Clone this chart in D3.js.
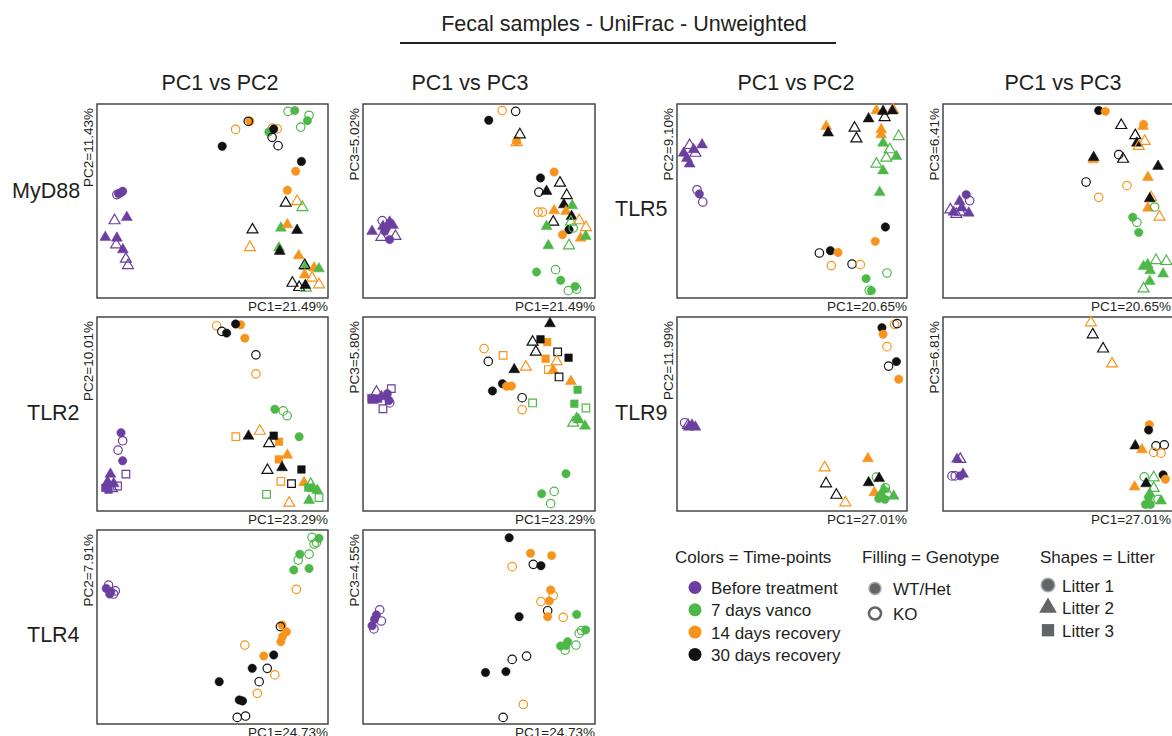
<!DOCTYPE html>
<html>
<head>
<meta charset="utf-8">
<script src="https://cdn.jsdelivr.net/npm/d3@7"></script>
<style>
body { margin: 0; background: #fff; }
svg { display: block; font-family: "Liberation Sans", Arial, Helvetica, sans-serif; }
</style>
</head>
<body>
<svg id="chart" width="1172" height="736"></svg>
<script>
// Categories
const timepoints = ["Before treatment", "7 days vanco", "14 days recovery", "30 days recovery"];
const genotypes = ["WT/Het", "KO"];
const litters = ["Litter 1", "Litter 2", "Litter 3"];
const genes = ["MyD88", "TLR2", "TLR4", "TLR5", "TLR9"];

// Variance explained (%)
const pc1Var = [21.49, 23.29, 24.73, 20.65, 27.01];
const pc2Var = [11.43, 10.01, 7.91, 9.10, 11.99];
const pc3Var = [5.02, 5.80, 4.55, 6.41, 6.81];

// Sample scores: [PC1, PC2 or PC3, timepoint index, filled (WT/Het=1, KO=0), litter]
// scores are rescaled to 0-100 within each plot
const myd88_pc12 = [
  [82.7,96.2,1,0,1],[85.6,96.6,1,1,1],[91.8,94.2,1,0,1],[91.1,91.4,1,1,1],[88.2,88.1,1,0,1],
  [66.2,91.1,2,1,1],[65.5,91.1,3,0,1],[60,86.9,2,0,1],[75.9,87.6,2,0,1],[78,87.2,2,0,1],
  [74.4,85.6,1,1,1],[76.5,87.1,3,1,1],[75.8,82.8,3,0,1],[78.4,78.5,3,0,1],[54.2,78.2,3,1,1],
  [88.5,70.4,3,1,1],[86,65.3,2,1,1],[82.4,55.5,2,1,1],
  [81.7,49,3,0,2],[86.6,49.8,2,0,2],[88.9,46.7,1,0,2],[67.3,35.2,3,0,2],[79.6,36.1,1,1,2],
  [82.4,37.8,2,1,2],[86.6,34.9,3,1,2],[66.2,26.1,2,0,2],[78.8,25.8,1,1,2],[79.1,24.1,3,1,2],
  [87.3,21.8,2,1,2],[90.3,16.3,1,1,2],[89.9,16.8,3,0,2],[94,15.5,2,1,2],[96.1,15.1,1,1,2],
  [89.9,12,2,1,2],[93.1,10.3,2,0,2],[84.6,7.7,3,0,2],[87.5,5.5,3,0,2],[90.4,5.2,1,0,2],
  [90.2,6.5,3,1,2],[96.1,6.9,2,0,2],
  [8.6,53.3,0,0,1],[10.1,54.1,0,1,1],[11.1,55,0,1,1],[9.3,53.8,0,1,1],
  [12.9,41.6,0,1,2],[7.6,39.9,0,0,2],[3.6,31.3,0,1,2],[8.6,30.9,0,1,2],[8.3,27.5,0,0,2],
  [11.2,24.9,0,1,2],[12.5,20.1,0,0,2],[13.4,16.8,0,0,2]
];
const myd88_pc13 = [
  [54.2,91.6,3,1,1],[60,96.6,2,0,1],[65.8,96.2,3,0,1],[66.2,80.8,2,1,1],[66.2,80.2,2,0,2],
  [67.6,84.2,3,0,2],[76.5,61.9,3,1,1],[82.4,64.9,2,1,1],[84.9,59.3,3,0,2],[75.8,54.6,3,0,1],
  [79.1,55,3,1,2],[87.8,52.9,3,0,2],[86.6,48.1,3,1,2],[90.2,47.6,1,1,2],[75.5,44.3,2,0,1],
  [77.3,44.3,2,0,1],[82.4,45,2,1,2],[87.5,44.7,2,1,2],[89.9,42.1,3,1,2],[82,39.2,3,0,2],
  [79.1,36.9,1,1,2],[89.6,39.2,1,0,2],[93.2,39.9,2,0,2],[88.8,35.2,3,1,1],[90.6,36.1,1,0,1],
  [96.1,36.4,2,0,2],[86,32.6,2,1,1],[93.8,30.9,2,1,2],[96,31.8,1,1,2],[79.9,27,1,1,2],
  [88.8,27,1,0,2],[74.8,13.4,1,1,1],[83,14.6,1,0,1],[85.2,9.1,1,1,1],[91.4,6,1,1,1],
  [88.5,3.8,1,0,1],[92.1,4.6,1,0,1],
  [3.9,34.4,0,1,2],[8.3,39.9,0,0,1],[8.6,36.9,0,1,2],[11.5,39.2,0,1,2],[10.1,36.1,0,1,1],
  [12.9,37.5,0,1,2],[9.4,34.4,0,1,1],[7.9,31.3,0,0,2],[11.5,30.1,0,1,1],[14,31.8,0,0,2]
];
const tlr2_pc12 = [
  [51.8,95.5,2,0,1],[54,92.6,3,0,1],[56.1,91.7,3,1,1],[62.2,96,2,1,1],[60,96.4,3,1,1],
  [64,89.1,2,1,1],[68.8,80.5,3,0,1],[68.8,70.7,2,0,1],[77,52.4,1,1,1],[80.6,51.6,1,0,1],
  [82.3,49.1,1,0,1],[87.5,38.3,1,1,1],[60.1,38.3,2,0,3],[65.6,38.6,3,1,2],[70.5,41.2,2,0,2],
  [78.8,35.7,2,1,3],[76.5,38.8,3,1,3],[74.5,34.8,3,0,2],[82.4,28.8,2,1,2],[78.7,26.6,2,1,3],
  [73.8,21,3,0,2],[80.1,22.4,3,1,2],[88.5,21.4,3,1,3],[79.6,15.3,2,0,3],[84.2,14.1,3,0,3],
  [89.6,14.7,2,1,2],[92.5,13.8,1,0,2],[91.4,12.1,1,1,3],[95.4,10.7,1,1,2],[93.5,11.5,1,1,2],
  [91.8,5.5,1,1,2],[96.1,6.9,1,0,3],[73.4,8.6,1,0,3],[83.2,4.1,2,0,2],
  [10.4,40.3,0,1,1],[11.1,36.2,0,0,1],[9.1,31.4,0,0,1],[11.1,25.9,0,1,1],[12.5,19,0,0,3],
  [5.8,19,0,1,2],[4.6,15,0,1,2],[7.2,14.1,0,1,2],[8.9,12.9,0,0,3],[6.5,11.6,0,0,2],
  [3.6,11.9,0,1,3],[5,11,0,1,3]
];
const tlr2_pc13 = [
  [80.6,96.6,3,1,2],[73.1,87.1,3,0,2],[79.4,87.1,2,1,3],[76.5,88.5,3,1,3],[74.5,82,3,0,2],
  [83.9,82,3,0,3],[78.7,78.5,2,1,3],[88.6,79,3,1,3],[83.5,77.1,2,0,2],[79.9,72.9,2,0,3],
  [82,72.5,2,1,2],[84.5,69.1,3,0,3],[52.2,83.7,2,0,1],[60.4,80.2,2,0,3],[54,77.1,3,0,1],
  [65.2,72.9,3,1,2],[70.2,74.2,2,0,2],[55.8,61.9,3,1,1],[60.1,65.6,3,1,1],[61.9,64.3,2,1,1],
  [64,64.4,2,1,1],[68.6,58.4,3,0,1],[73.1,55.7,1,0,3],[68.6,52.2,2,0,1],[89.6,66.8,2,1,2],
  [92.5,62.5,1,1,3],[91.1,55.3,1,1,3],[96.1,53.1,1,0,3],[92.1,47.9,1,1,2],[90.6,45.4,1,0,2],
  [93,47,1,1,2],[95.7,43.8,1,1,2],[87.5,19.2,1,1,1],[82.4,10.1,1,0,1],[77,8.9,1,1,1],
  [80.9,3.8,1,0,1],
  [12.2,63.1,0,0,3],[5.8,61.3,0,0,2],[3.6,58.2,0,1,3],[6.5,57.9,0,1,3],[7.9,59,0,1,2],
  [10.5,60.5,0,1,1],[4.3,57,0,1,2],[11.2,57,0,1,1],[11.5,55.7,0,0,1],[8.6,52.7,0,0,3]
];
const tlr4_pc12 = [
  [93.1,96.2,1,0,1],[96.1,95.7,1,1,1],[94,92.8,1,0,1],[95,93.5,1,0,1],[87.8,87.5,1,1,1],
  [87.1,84.5,1,0,1],[91.8,87.6,1,0,1],[85.2,79.4,1,1,1],[91.8,80.2,1,1,1],[86.3,69.4,2,0,1],
  [80.1,51,2,1,1],[79.4,50.2,3,0,1],[82,47.6,2,1,1],[80.3,45,2,1,1],[79.6,42.4,2,1,1],
  [64,40.7,2,0,1],[72.2,35.1,2,1,1],[76.5,35.6,3,1,1],[67.2,28.7,3,1,1],[73.7,28.7,3,0,1],
  [77,25.3,2,0,1],[70.2,21.8,3,0,1],[52.9,21.8,3,1,1],[69.4,15.8,2,0,1],[61.6,12.4,3,1,1],
  [63,11.9,3,1,1],[60.7,3.4,3,0,1],[64.3,4.1,3,0,1],
  [5,71.6,0,0,1],[4,69.9,0,1,1],[6,68.2,0,1,1],[7.9,68.6,0,0,1],[5.5,67,0,1,1],[7.2,67,0,0,1]
];
const tlr4_pc13 = [
  [63,96,3,1,1],[72.2,88,2,1,1],[81.3,86.8,2,1,1],[64.3,81.1,2,0,1],[73.4,82.3,3,0,1],
  [76.7,81.6,3,1,1],[80.9,69.1,2,1,1],[82,66.2,2,0,1],[76.7,63.1,2,0,1],[80.3,63.4,2,1,1],
  [79.6,58.4,3,0,1],[79.6,55.3,2,1,1],[86.3,55,2,0,1],[67.3,55.3,3,1,1],[92.1,56.5,1,1,1],
  [93.2,46.7,1,0,1],[94.2,48.2,1,0,1],[96,48.5,1,1,1],[88.2,42.4,1,1,1],[85.2,40.2,1,1,1],
  [87.1,38.1,1,0,1],[91.8,40.7,1,0,1],[87.5,40.5,1,1,1],[70.5,35,3,0,1],[64.3,33.3,3,0,1],
  [52.8,26.5,3,1,1],[61.6,27,3,1,1],[69.1,10.1,2,0,1],[60.4,3.4,3,0,1],
  [7.2,58.8,0,0,1],[5.8,56.2,0,1,1],[5,54,0,1,1],[7.9,53.1,0,0,1],[3.9,50.7,0,1,1],[4.7,49,0,0,1]
];
const tlr5_pc12 = [
  [86.7,96.6,2,1,2],[89.6,96.2,3,1,2],[83.3,92.4,3,1,2],[93.9,97.1,2,0,2],[93.7,96.5,3,1,2],
  [90.3,93.1,3,0,2],[64.9,88.5,2,1,2],[65.7,85.1,3,1,2],[77.2,87.6,3,0,2],[78,82.1,3,0,2],
  [88.8,86.8,2,1,2],[88.8,84.2,2,1,2],[96.4,83.3,1,0,2],[89.6,79.9,1,1,2],[92.5,76.5,1,0,2],
  [95.4,73,1,1,2],[91,72.2,1,0,2],[86.7,69.1,1,0,2],[89.6,65.6,1,1,2],[88.1,54.5,1,1,2],
  [5.5,78.7,0,0,2],[10.9,79,0,1,2],[2.9,74.7,0,1,2],[7.2,76.5,0,1,2],[8,74.7,0,0,2],
  [4.3,72,0,1,2],[5.5,69.1,0,1,2],[8.7,55.8,0,0,1],[9.7,53.6,0,1,1],[11.2,49.5,0,0,1],
  [90.6,36.6,3,1,1],[86.2,29.2,2,1,1],[61.9,23.2,3,0,1],[66.7,24.4,3,1,1],[70,23.5,2,1,1],
  [67.1,16.7,2,0,1],[76.1,17.5,3,0,1],[79.7,17.2,2,0,1],[91.3,12.9,1,0,1],[82.2,10,1,1,1],
  [83.6,4,1,0,1],[84.5,3.8,1,1,1]
];
const tlr5_pc13 = [
  [67.7,96.6,3,1,1],[70.6,96.2,2,1,1],[77.5,89,3,0,2],[87,88.5,2,1,2],[87.2,89.5,2,1,1],
  [83.6,83.8,3,0,2],[87.7,80.8,2,0,2],[84.3,79.9,3,1,2],[85.1,78.2,2,0,2],[65.3,71.3,2,1,2],
  [65.5,72.5,3,1,2],[76.4,73.9,3,0,1],[78.3,71.6,3,0,2],[93.5,67.9,3,1,2],[62.2,59.8,3,0,1],
  [80,57.9,2,0,1],[89.1,62.2,2,1,2],[67.7,51.9,2,0,1],[90.5,51.8,2,0,2],[89.9,51.2,3,1,2],
  [89.1,46.4,2,1,2],[92,46.9,1,0,1],[94.1,41.8,2,0,2],[82.5,41.6,1,1,1],[84.3,39,1,0,1],
  [85.1,33.8,1,1,1],[89,17.2,1,1,2],[92.6,19.4,1,0,2],[97.1,18.9,1,0,2],[87.2,16.3,1,1,2],
  [95.7,12.4,1,1,2],[90.1,14.1,1,1,2],[89.9,8.6,1,1,2],[87.2,4.8,1,0,2],
  [10.1,53.3,0,1,1],[11.6,50.2,0,0,1],[7.2,49.8,0,1,2],[8.2,46.5,0,1,2],[3.2,45.5,0,0,2],
  [4.6,44.3,0,1,2],[7.5,44.3,0,0,2],[11.2,43.8,0,1,2],[5.8,43.2,0,0,2]
];
const tlr9_pc12 = [
  [89.1,94.5,3,1,1],[94.6,96.2,2,0,1],[95.7,96.6,3,0,1],[89.6,91.1,2,1,1],[91.3,84.7,2,0,1],
  [92,74.7,3,0,1],[95.4,77,3,1,1],[96.4,67.9,2,1,1],
  [3.3,45.5,0,0,1],[4.8,44.2,0,0,2],[5.1,43.3,0,1,2],[6.5,44.3,0,1,2],[8,43.3,0,1,2],
  [64.2,22.3,2,0,2],[64.8,14.1,3,0,2],[69.3,8.2,3,0,2],[73.2,4.3,2,0,2],[83,27,2,1,2],
  [83.3,14.6,3,1,2],[86.7,17.5,1,0,1],[87.9,16.8,3,1,2],[85.8,9.5,2,1,2],[89.9,11.2,1,1,2],
  [90.6,12,1,0,1],[88.7,8.2,1,1,1],[91.7,8.8,1,0,2],[87.7,6.4,1,1,1],[90.4,6,1,1,1],
  [94.2,7.7,1,1,2]
];
const tlr9_pc13 = [
  [64.3,97.1,2,0,2],[65.1,90.9,3,0,2],[69.6,83.6,3,0,2],[73.5,75.9,2,0,2],[89.7,44.5,2,1,1],
  [89.4,41.7,3,1,1],[83.6,33.6,3,1,2],[86.5,31.6,2,1,2],[92.6,33.6,3,0,1],[96.2,34.1,3,0,1],
  [91.6,30.2,2,0,1],[94.8,29.8,2,0,1],[95.7,18.6,3,1,1],[96.7,16.4,2,1,1],[87.5,17.6,1,0,1],
  [91.6,17.2,1,0,2],[88.3,14.1,3,1,2],[83.3,12.4,2,1,2],[91.6,11.7,1,0,2],[89.9,9,1,1,2],
  [89.4,6.9,1,1,1],[93.5,6,1,0,1],[94.8,5.2,1,1,2],[88,3.4,1,1,1],[90.2,3.4,1,1,1],
  [6.1,26.7,0,1,2],[7.5,26.7,0,0,2],[3.9,18.1,0,0,1],[5.3,18.1,0,0,1],[7.5,18.1,0,1,1],
  [8.7,19,0,1,2]
];

// Styles
const timeColors = ["#6b3fa0", "#4db848", "#f7941d", "#111111"];
const legendGray = "#636466";

const svg = d3.select("#chart");

// Title
svg.append("text")
  .attr("x", 624).attr("y", 31)
  .attr("text-anchor", "middle")
  .attr("font-size", 21.5)
  .attr("fill", "#231f20")
  .text("Fecal samples - UniFrac - Unweighted");
svg.append("line")
  .attr("x1", 400).attr("x2", 836)
  .attr("y1", 43).attr("y2", 43)
  .attr("stroke", "#231f20").attr("stroke-width", 2);

// Column headings
const headings = [
  { x: 220, text: "PC1 vs PC2" },
  { x: 470, text: "PC1 vs PC3" },
  { x: 796, text: "PC1 vs PC2" },
  { x: 1063, text: "PC1 vs PC3" }
];
svg.selectAll("text.heading")
  .data(headings)
  .join("text")
  .attr("class", "heading")
  .attr("x", d => d.x).attr("y", 90)
  .attr("text-anchor", "middle")
  .attr("font-size", 21.5)
  .attr("fill", "#231f20")
  .text(d => d.text);

// Row labels
const rowLabels = [
  { g: 0, x: 12, y: 198 },
  { g: 1, x: 27, y: 420 },
  { g: 2, x: 27, y: 642 },
  { g: 3, x: 615, y: 216 },
  { g: 4, x: 615, y: 420 }
];
svg.selectAll("text.row")
  .data(rowLabels)
  .join("text")
  .attr("class", "row")
  .attr("x", d => d.x).attr("y", d => d.y)
  .attr("font-size", 21.5)
  .attr("fill", "#231f20")
  .text(d => genes[d.g]);

// Panels layout
const colL = [[97, 328], [363, 595], [677, 907], [943, 1173]];
const rowT = [[104, 298], [317, 511], [530, 724]];
const panels = [
  { g: 0, pc: 2, pts: myd88_pc12, c: 0, r: 0 },
  { g: 0, pc: 3, pts: myd88_pc13, c: 1, r: 0 },
  { g: 1, pc: 2, pts: tlr2_pc12, c: 0, r: 1 },
  { g: 1, pc: 3, pts: tlr2_pc13, c: 1, r: 1 },
  { g: 2, pc: 2, pts: tlr4_pc12, c: 0, r: 2 },
  { g: 2, pc: 3, pts: tlr4_pc13, c: 1, r: 2 },
  { g: 3, pc: 2, pts: tlr5_pc12, c: 2, r: 0 },
  { g: 3, pc: 3, pts: tlr5_pc13, c: 3, r: 0 },
  { g: 4, pc: 2, pts: tlr9_pc12, c: 2, r: 1 },
  { g: 4, pc: 3, pts: tlr9_pc13, c: 3, r: 1 }
];

const shapes = [d3.symbolCircle, d3.symbolTriangle, d3.symbolSquare];
const shapeSize = [56, 52, 58];
const symbolPath = (litter, scale) => d3.symbol()
  .type(shapes[litter - 1])
  .size(shapeSize[litter - 1] * (scale || 1))();

panels.forEach(p => {
  const [x0, x1] = colL[p.c];
  const [y0, y1] = rowT[p.r];
  const x = d3.scaleLinear().domain([0, 100]).range([x0, x1]);
  const y = d3.scaleLinear().domain([0, 100]).range([y1, y0]);
  const g = svg.append("g");

  g.append("rect")
    .attr("x", x0).attr("y", y0)
    .attr("width", x1 - x0).attr("height", y1 - y0)
    .attr("fill", "none")
    .attr("stroke", "#3a3a3a")
    .attr("stroke-width", 1.4);

  g.selectAll("path")
    .data(p.pts)
    .join("path")
    .attr("d", d => symbolPath(d[4]))
    .attr("transform", d => `translate(${x(d[0])},${y(d[1])})`)
    .attr("fill", d => d[3] ? timeColors[d[2]] : "none")
    .attr("stroke", d => timeColors[d[2]])
    .attr("stroke-width", d => d[3] ? 0.5 : 1.2);

  const pcv = p.pc === 2 ? pc2Var[p.g] : pc3Var[p.g];
  g.append("text")
    .attr("x", Math.min(x1, 1171)).attr("y", y1 + 13)
    .attr("text-anchor", "end")
    .attr("font-size", 13.5)
    .attr("fill", "#231f20")
    .text(`PC1=${pc1Var[p.g].toFixed(2)}%`);
  g.append("text")
    .attr("transform", `translate(${x0 - 4},${y0 + 4}) rotate(-90)`)
    .attr("text-anchor", "end")
    .attr("font-size", 13.5)
    .attr("fill", "#231f20")
    .text(`PC${p.pc}=${pcv.toFixed(2)}%`);
});

// Legend
const leg = svg.append("g").attr("font-size", 17).attr("fill", "#231f20");
leg.append("text").attr("x", 675).attr("y", 563).text("Colors = Time-points");
leg.append("text").attr("x", 862).attr("y", 563).text("Filling = Genotype");
leg.append("text").attr("x", 1040).attr("y", 563).text("Shapes = Litter");

timepoints.forEach((t, i) => {
  const yy = 594 + i * 22.3;
  leg.append("circle").attr("cx", 695).attr("cy", yy - 6.5).attr("r", 6.5)
    .attr("fill", timeColors[i]);
  leg.append("text").attr("x", 711).attr("y", yy).text(t);
});

genotypes.forEach((t, i) => {
  const yy = 595 + i * 25;
  leg.append("circle").attr("cx", 875).attr("cy", yy - 6.5).attr("r", 6)
    .attr("fill", i === 0 ? legendGray : "#fff")
    .attr("stroke", i === 0 ? "#a7a9ac" : legendGray)
    .attr("stroke-width", i === 0 ? 1.5 : 2.5);
  leg.append("text").attr("x", 893).attr("y", yy).text(t);
});

litters.forEach((t, i) => {
  const yy = 591.5 + i * 22.6;
  leg.append("path")
    .attr("d", symbolPath(i + 1, 2.6))
    .attr("transform", `translate(1048,${yy - 6.5})`)
    .attr("fill", legendGray)
    .attr("stroke", i === 0 ? "#a7a9ac" : "none")
    .attr("stroke-width", 1.5);
  leg.append("text").attr("x", 1062).attr("y", yy).text(t);
});
</script>
</body>
</html>
